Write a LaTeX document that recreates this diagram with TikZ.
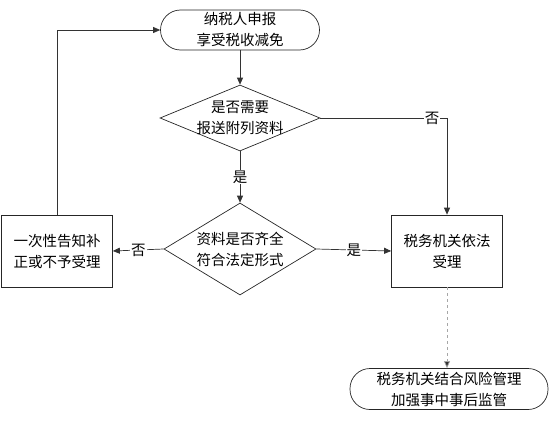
\documentclass[tikz,border=0pt]{standalone}
\usepackage{fontspec}
\newfontfamily\cjk{Noto Sans CJK SC}
\usetikzlibrary{arrows.meta,shapes.geometric}
\begin{document}
\begin{tikzpicture}[x=1pt,y=-1pt,
  every node/.style={font=\cjk\fontsize{14.5}{21}\selectfont, align=center},
  terminal/.style={draw=black!85, line width=0.7pt, rounded corners=20pt, minimum width=159pt, minimum height=40pt, inner sep=0pt},
  decision/.style={draw=black!85, line width=0.7pt, diamond, inner sep=0pt},
  procbox/.style={draw=black!85, line width=0.7pt, rectangle, minimum width=111pt, minimum height=72pt, inner sep=0pt},
  conn/.style={draw=black!80, line width=0.7pt, -{Triangle[length=7pt,width=6pt]}},
  lbl/.style={fill=white, inner sep=1pt}
]
\useasboundingbox (0,0) rectangle (559,423);
\node[terminal] (t1) at (240,30) {纳税人申报\\享受税收减免};
\node[decision, minimum width=160pt, minimum height=66pt] (d1) at (240,118) {};
\node at (d1) {是否需要\\报送附列资料};
\node[decision, minimum width=152pt, minimum height=92pt] (d2) at (240,249) {};
\node at (d2) {资料是否齐全\\符合法定形式};
\node[procbox] (bl) at (57,251) {一次性告知补\\正或不予受理};
\node[procbox] (br) at (447,251) {税务机关依法\\受理};
\node[terminal, minimum width=198pt, minimum height=41pt] (t2) at (449,389) {税务机关结合风险管理\\加强事中事后监管};
\coordinate (c1) at (br.north |- d1.east);
\coordinate (c2) at (bl.north |- t1.west);

\draw[conn] (t1.south) -- (d1.north);
\draw[conn] (d1.south) -- node[lbl] (ly1) {是} (d2.north);
\draw[conn] (d1.east) -- (c1) -- (br.north);
\node[lbl] (ln1) at (432,118) {否};
\draw[conn] (d2.east) -- node[lbl] (ly2) {是} (br.west);
\draw[conn] (d2.west) -- node[lbl] (ln2) {否} (bl.east);
\draw[conn, -] (bl.north) -- (c2);
\draw[conn] (c2) -- (t1.west);
\draw[conn, draw=black!35, dashed, -{Triangle[length=7pt,width=6pt,fill=black!80]}] (br.south) -- (br.south |- t2.north);
\end{tikzpicture}
\end{document}
